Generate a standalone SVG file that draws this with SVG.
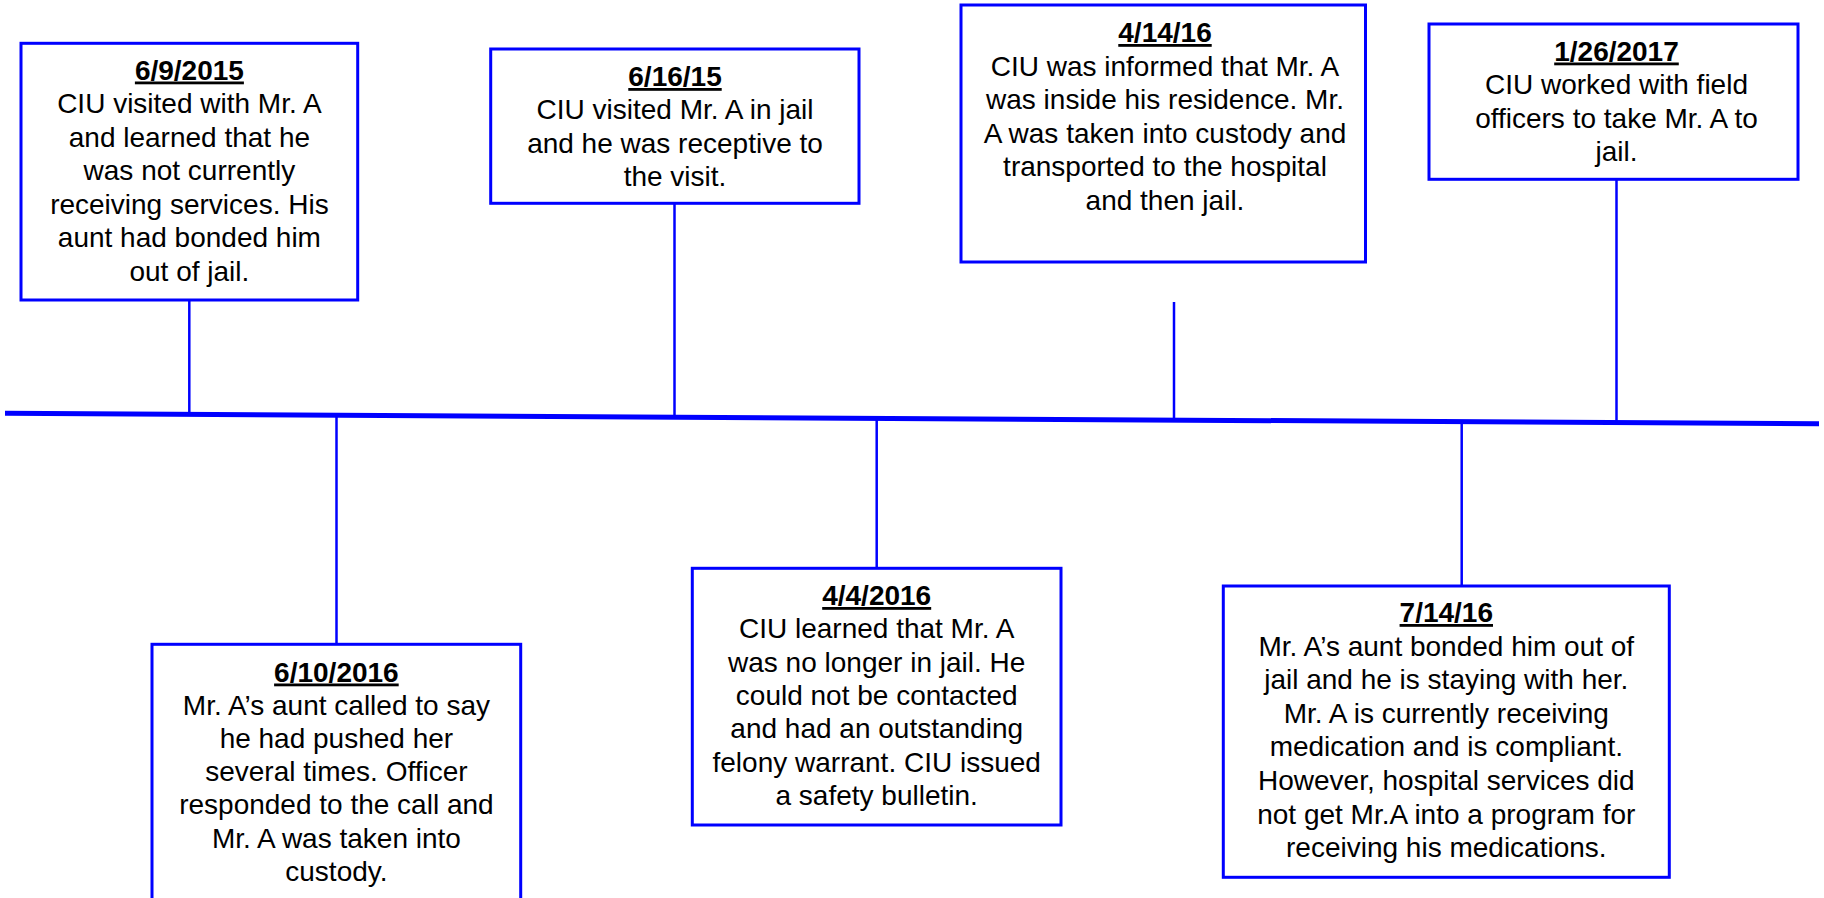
<svg xmlns="http://www.w3.org/2000/svg" width="1824" height="898" viewBox="0 0 1824 898">
<style>
.box{fill:#ffffff;stroke:#0000ff;stroke-width:3}
.conn{stroke:#0000ff;stroke-width:2.5;fill:none}
.axis{stroke:#0000ff;stroke-width:5;fill:none}
text{font-family:"Liberation Sans",Arial,sans-serif;font-size:28px;fill:#000;text-anchor:middle}
.date{font-weight:bold;text-decoration:underline}
</style>
<rect width="1824" height="898" fill="#ffffff"/>
<g id="connectors">
<line class="axis" x1="5" y1="413.3" x2="1819" y2="423.8"/>
<line class="conn" x1="189.3" y1="300" x2="189.3" y2="413.5"/>
<line class="conn" x1="674.5" y1="203" x2="674.5" y2="416"/>
<line class="conn" x1="1174" y1="302" x2="1174" y2="420"/>
<line class="conn" x1="1616.5" y1="179" x2="1616.5" y2="422.6"/>
<line class="conn" x1="336.5" y1="415" x2="336.5" y2="644"/>
<line class="conn" x1="876.7" y1="418" x2="876.7" y2="568"/>
<line class="conn" x1="1461.7" y1="421.5" x2="1461.7" y2="586"/>
</g>
<g id="n1">
<rect class="box" x="21" y="43.3" width="336.7" height="256.7"/>
<text x="189.4" y="79.5" class="date">6/9/2015</text>
<text x="189.4" y="113">CIU visited with Mr. A</text>
<text x="189.4" y="146.5">and learned that he</text>
<text x="189.4" y="180">was not currently</text>
<text x="189.4" y="213.5">receiving services. His</text>
<text x="189.4" y="247">aunt had bonded him</text>
<text x="189.4" y="280.5">out of jail.</text>
</g>
<g id="n2">
<rect class="box" x="490.7" y="49" width="368.3" height="154.3"/>
<text x="675" y="86" class="date">6/16/15</text>
<text x="675" y="119.3">CIU visited Mr. A in jail</text>
<text x="675" y="152.7">and he was receptive to</text>
<text x="675" y="186">the visit.</text>
</g>
<g id="n3">
<rect class="box" x="961" y="5" width="404.5" height="257"/>
<text x="1165" y="42" class="date">4/14/16</text>
<text x="1165" y="75.5">CIU was informed that Mr. A</text>
<text x="1165" y="109">was inside his residence. Mr.</text>
<text x="1165" y="142.5">A was taken into custody and</text>
<text x="1165" y="176">transported to the hospital</text>
<text x="1165" y="209.5">and then jail.</text>
</g>
<g id="n4">
<rect class="box" x="1429" y="24" width="369" height="155.3"/>
<text x="1616.5" y="60.5" class="date">1/26/2017</text>
<text x="1616.5" y="94">CIU worked with field</text>
<text x="1616.5" y="127.5">officers to take Mr. A to</text>
<text x="1616.5" y="161">jail.</text>
</g>
<g id="n5">
<rect class="box" x="152" y="644.3" width="368.7" height="270"/>
<text x="336.4" y="681.5" class="date">6/10/2016</text>
<text x="336.4" y="714.7">Mr. A’s aunt called to say</text>
<text x="336.4" y="747.9">he had pushed her</text>
<text x="336.4" y="781.1">several times. Officer</text>
<text x="336.4" y="814.3">responded to the call and</text>
<text x="336.4" y="847.5">Mr. A was taken into</text>
<text x="336.4" y="880.7">custody.</text>
</g>
<g id="n6">
<rect class="box" x="692.3" y="568.3" width="368.7" height="256.7"/>
<text x="876.7" y="605" class="date">4/4/2016</text>
<text x="876.7" y="638.3">CIU learned that Mr. A</text>
<text x="876.7" y="671.7">was no longer in jail. He</text>
<text x="876.7" y="705">could not be contacted</text>
<text x="876.7" y="738.3">and had an outstanding</text>
<text x="876.7" y="771.7">felony warrant. CIU issued</text>
<text x="876.7" y="805">a safety bulletin.</text>
</g>
<g id="n7">
<rect class="box" x="1223.3" y="586" width="446" height="291.3"/>
<text x="1446.3" y="622" class="date">7/14/16</text>
<text x="1446.3" y="655.6">Mr. A’s aunt bonded him out of</text>
<text x="1446.3" y="689.2">jail and he is staying with her.</text>
<text x="1446.3" y="722.8">Mr. A is currently receiving</text>
<text x="1446.3" y="756.4">medication and is compliant.</text>
<text x="1446.3" y="790">However, hospital services did</text>
<text x="1446.3" y="823.6">not get Mr.A into a program for</text>
<text x="1446.3" y="857.2">receiving his medications.</text>
</g>
</svg>
